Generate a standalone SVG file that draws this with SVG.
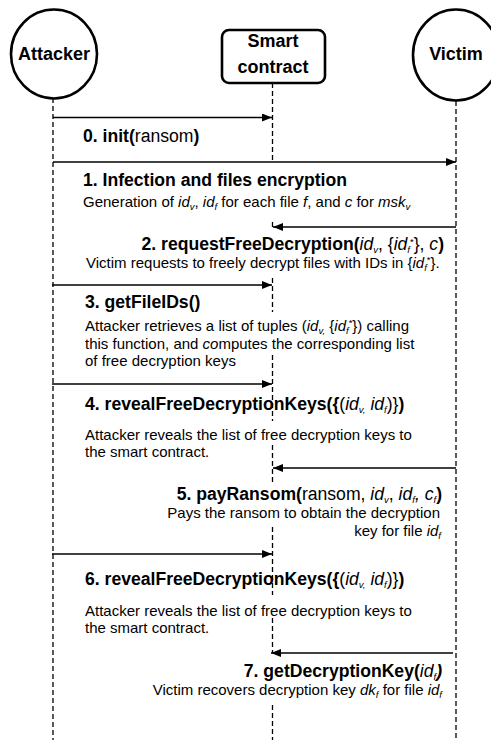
<svg xmlns="http://www.w3.org/2000/svg" width="491" height="740" viewBox="0 0 491 740">
<style>
.ll{stroke:#000;stroke-width:1.3;stroke-dasharray:5 3;fill:none}
.msg{stroke:#000;stroke-width:1.5;fill:none;marker-end:url(#ah)}
.node{fill:#fff;stroke:#000;stroke-width:2.6}
.actor{font:bold 18px "Liberation Sans",Arial,sans-serif;fill:#000}
.h{font:bold 17.6px "Liberation Sans",Arial,sans-serif;fill:#000}
.d{font:15px "Liberation Sans",Arial,sans-serif;fill:#000}
.n{font-weight:normal}
.i{font-style:italic}
.s{font-size:9.5px}
</style>
<defs>
<marker id="ah" markerUnits="userSpaceOnUse" markerWidth="10" markerHeight="8" refX="10" refY="4" orient="auto">
<path d="M0,0 L10,4 L0,8 z" fill="#000"/>
</marker>
</defs>
<rect width="491" height="740" fill="#fff"/>
<g id="lifelines">
<line class="ll" x1="53" y1="98" x2="53" y2="740"/>
<line class="ll" x1="456" y1="101" x2="456" y2="740"/>
<path class="ll" d="M272.5,83V162M272.5,222V228M272.5,278V312M272.5,355V421M272.5,445V482M272.5,527V595M272.5,618V653M272.5,705V740"/>
</g>
<g id="attacker">
<ellipse class="node" cx="54" cy="54" rx="43" ry="44.5"/>
<text class="actor" x="54" y="60" text-anchor="middle">Attacker</text>
</g>
<g id="smart-contract">
<rect class="node" x="222" y="30" width="103" height="53" rx="7"/>
<text class="actor" x="273" y="47" text-anchor="middle">Smart</text>
<text class="actor" x="273" y="73" text-anchor="middle">contract</text>
</g>
<g id="victim">
<ellipse class="node" cx="456" cy="55" rx="43" ry="45.5"/>
<text class="actor" x="456" y="60" text-anchor="middle">Victim</text>
</g>
<g id="connectors">
<line class="msg" x1="53" y1="117.5" x2="272" y2="117.5"/>
<line class="msg" x1="53" y1="162" x2="456" y2="162"/>
<line class="msg" x1="456" y1="227" x2="273" y2="227"/>
<line class="msg" x1="52" y1="285" x2="272" y2="285"/>
<line class="msg" x1="52" y1="384" x2="272" y2="384"/>
<line class="msg" x1="456" y1="468" x2="273" y2="468"/>
<line class="msg" x1="52" y1="554" x2="272" y2="554"/>
<line class="msg" x1="453" y1="653" x2="271" y2="653"/>
</g>
<g id="step0">
<text class="h" x="83" y="142">0. init(<tspan class="n">ransom</tspan>)</text>
</g>
<g id="step1">
<text class="h" x="83" y="186">1. Infection and files encryption</text>
<text class="d" x="83" y="207">Generation of <tspan class="i">id</tspan><tspan class="i s" dy="3">v</tspan><tspan dy="-3">, </tspan><tspan class="i">id</tspan><tspan class="i s" dy="3">f</tspan><tspan dy="-3"> for each file </tspan><tspan class="i">f</tspan>, and <tspan class="i">c</tspan> for <tspan class="i">msk</tspan><tspan class="i s" dy="3">v</tspan></text>
</g>
<g id="step2">
<text class="h" x="444" y="250" text-anchor="end">2. requestFreeDecryption(<tspan class="n i">id</tspan><tspan class="n i s" dy="3">v</tspan><tspan class="n" dy="-3">, {</tspan><tspan class="n i">id</tspan><tspan class="n i s" dy="3">f</tspan><tspan class="n s" dy="-8">*</tspan><tspan class="n" dy="5">}, </tspan><tspan class="n i">c</tspan>)</text>
<text class="d" x="86" y="268">Victim requests to freely decrypt files with IDs in {<tspan class="i">id</tspan><tspan class="i s" dy="3">f</tspan><tspan class="s" dy="-8">*</tspan><tspan dy="5">}.</tspan></text>
</g>
<g id="step3">
<text class="h" x="85" y="308">3. getFileIDs()</text>
<text class="d" x="85" y="331">Attacker retrieves a list of tuples (<tspan class="i">id</tspan><tspan class="i s" dy="2.5">v,</tspan><tspan dy="-2.5"> {</tspan><tspan class="i">id</tspan><tspan class="i s" dy="2.5">f</tspan><tspan class="s" dy="-7.5">*</tspan><tspan dy="5">}) calling</tspan></text>
<text class="d" x="85" y="349">this function, and <tspan class="i">co</tspan>mputes the corresponding list</text>
<text class="d" x="85" y="366">of free decryption keys</text>
</g>
<g id="step4">
<text class="h" x="85" y="410">4. revealFreeDecryptionKeys({<tspan class="n">(</tspan><tspan class="n i">id</tspan><tspan class="n i s" dy="3">v,</tspan><tspan class="n i" dy="-3"> id</tspan><tspan class="n i s" dy="3">f</tspan><tspan class="n" dy="-3">)}</tspan>)</text>
<text class="d" x="85" y="440">Attacker reveals the list of free decryption keys to</text>
<text class="d" x="85" y="457">the smart contract.</text>
</g>
<g id="step5">
<text class="h" x="442" y="500" text-anchor="end">5. payRansom(<tspan class="n">ransom, </tspan><tspan class="n i">id</tspan><tspan class="n i s" dy="3">v</tspan><tspan class="n" dy="-3">, </tspan><tspan class="n i">id</tspan><tspan class="n i s" dy="3">f</tspan><tspan class="n i" dy="-3">, c</tspan><tspan class="n i s" dy="3">f</tspan><tspan dy="-3">)</tspan></text>
<text class="d" x="440" y="518" text-anchor="end">Pays the ransom to obtain the decryption</text>
<text class="d" x="441" y="536" text-anchor="end">key for file <tspan class="i">id</tspan><tspan class="i s" dy="3">f</tspan></text>
</g>
<g id="step6">
<text class="h" x="85" y="585">6. revealFreeDecryptionKeys({<tspan class="n">(</tspan><tspan class="n i">id</tspan><tspan class="n i s" dy="3">v,</tspan><tspan class="n i" dy="-3"> id</tspan><tspan class="n i s" dy="3">f</tspan><tspan class="n" dy="-3">)}</tspan>)</text>
<text class="d" x="85" y="616">Attacker reveals the list of free decryption keys to</text>
<text class="d" x="85" y="633">the smart contract.</text>
</g>
<g id="step7">
<text class="h" x="442" y="677" text-anchor="end">7. getDecryptionKey(<tspan class="n i">id</tspan><tspan class="n i s" dy="3">f</tspan><tspan class="i" dy="-3">)</tspan></text>
<text class="d" x="442" y="695" text-anchor="end">Victim recovers decryption key <tspan class="i">dk</tspan><tspan class="i s" dy="3">f</tspan><tspan dy="-3"> for file </tspan><tspan class="i">id</tspan><tspan class="i s" dy="3">f</tspan></text>
</g>
</svg>
